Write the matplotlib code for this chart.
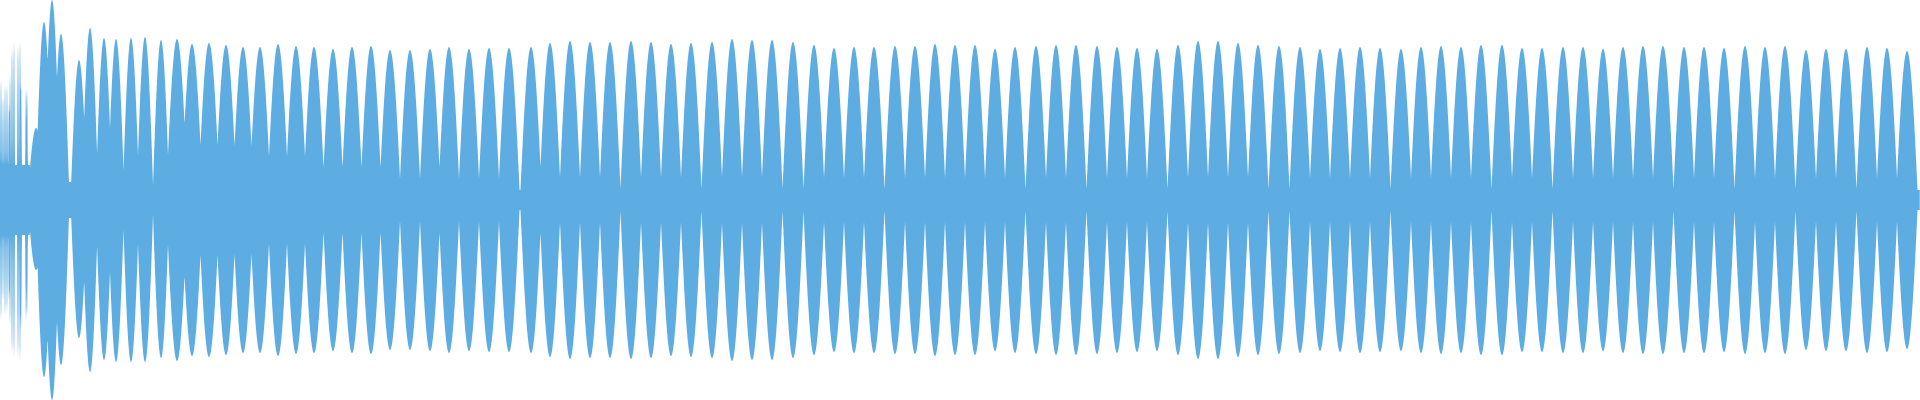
import numpy as np
import matplotlib.pyplot as plt

# lobe centres (sample index ~ pixel column), top / bottom peak (pixel rows, 0 = top edge)
early_x   = [1, 3, 5, 7, 9, 10, 12, 14, 18, 20, 21, 26, 27]
early_top = [80, 97, 85, 85, 105, 74, 48, 42, 45, 41, 82, 89, 90]
early_bot = [320, 300, 315, 312, 300, 325, 352, 357, 357, 360, 330, 320, 315]

first_x   = [36, 44, 52, 61, 79, 90, 104, 116, 131, 145, 161]
first_top = [128, 22, 0, 34, 60, 28, 38, 39, 38, 37, 40]
first_bot = [270, 377, 400, 365, 338, 372, 360, 362, 362, 362, 358]

lobe_x = [177, 192, 209, 226, 243, 260, 278, 296, 314, 333, 352, 371, 390, 410, 430,
          449, 469, 489, 509, 531, 550, 570, 590, 610, 631, 651, 671, 691, 712, 732,
          752, 772, 793, 814, 834, 854, 874, 895, 915, 935, 955, 975, 995, 1015, 1036,
          1056, 1076, 1097, 1117, 1137, 1157, 1178, 1198, 1218, 1238, 1258, 1279, 1300,
          1320, 1340, 1360, 1380, 1401, 1421, 1441, 1461, 1481, 1502, 1522, 1542, 1563,
          1583, 1603, 1623, 1643, 1663, 1684, 1704, 1724, 1745, 1765, 1785, 1806, 1826,
          1846, 1867, 1887, 1907]
lobe_top = [39, 44, 43, 45, 47, 47, 44, 46, 47, 49, 47, 46, 50, 50, 49,
            47, 49, 48, 48, 47, 43, 41, 42, 42, 41, 42, 44, 43, 42, 39,
            40, 40, 42, 45, 48, 47, 47, 46, 46, 44, 45, 45, 49, 47, 46,
            45, 45, 46, 47, 48, 49, 45, 41, 41, 43, 45, 46, 47,
            49, 48, 47, 48, 49, 47, 46, 47, 45, 45, 48, 48, 47,
            47, 49, 47, 46, 46, 47, 47, 48, 46, 47, 46, 50, 49,
            49, 47, 48, 51]

W, H = 1920, 400
color = '#5dade2'

x = np.arange(0, W, 0.25)
up = np.full_like(x, 10.0)
dn = np.full_like(x, 10.0)
up[x < 30] = 35
dn[x < 30] = 35
up[(x >= 30) & (x < 80)] = 18
dn[(x >= 30) & (x < 80)] = 18


def add_lobe(c, top, bot, hw, p=1.0):
    a_up = H / 2 - top
    a_dn = bot - H / 2
    m = np.abs(x - c) < hw
    shape = np.cos(np.pi * (x[m] - c) / (2 * hw)) ** p
    up[m] = np.maximum(up[m], a_up * shape)
    dn[m] = np.maximum(dn[m], a_dn * shape)


for c, t, b in zip(early_x, early_top, early_bot):
    add_lobe(c, t, b, 1.2, 1.5)
for c, t, b in zip(first_x, first_top, first_bot):
    add_lobe(c, t, b, 8.5)
for c, t in zip(lobe_x, lobe_top):
    add_lobe(c, t, H - t, 11.0)

fig = plt.figure(figsize=(W / 100, H / 100), dpi=100)
ax = fig.add_axes([0, 0, 1, 1])
ax.fill_between(x, -dn, up, color=color, lw=0)
ax.set_xlim(0, W)
ax.set_ylim(-H / 2, H / 2)
ax.axis('off')

plt.savefig('out.png', dpi=100)
